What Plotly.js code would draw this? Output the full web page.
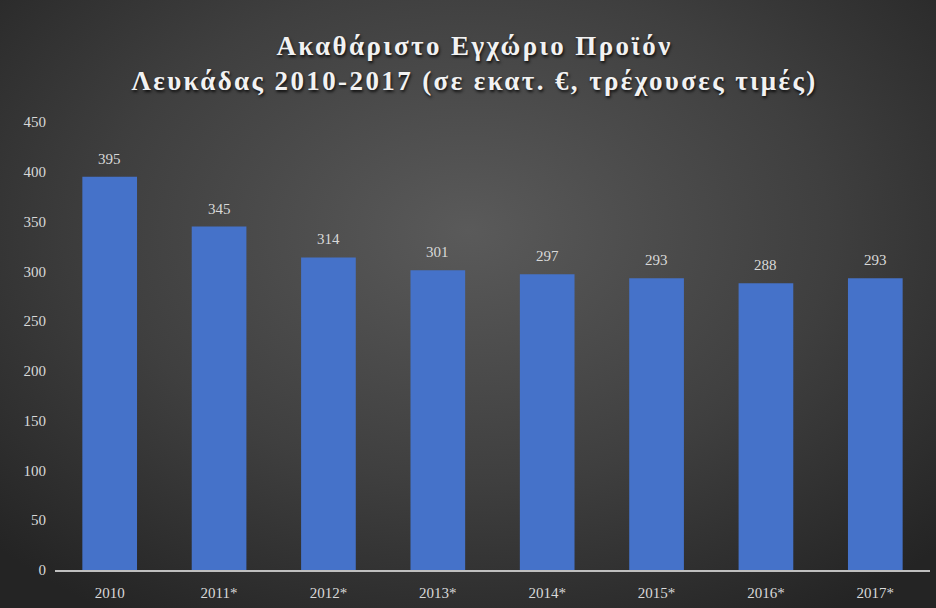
<!DOCTYPE html>
<html>
<head>
<meta charset="utf-8">
<script src="https://cdn.plot.ly/plotly-3.0.1.min.js"></script>
<style>
html,body{margin:0;padding:0;}
#chart{width:936px;height:608px;background:radial-gradient(ellipse 70% 75% at 50% 38%, #5a5a5a 0%, #3f3f3f 55%, #242424 100%);}
#chart .gtitle{text-shadow:1px 2px 3px rgba(0,0,0,0.8);letter-spacing:2.4px;}
</style>
</head>
<body>
<div id="chart"></div>
<script>
var categories = ["2010","2011*","2012*","2013*","2014*","2015*","2016*","2017*"];
var values = [395,345,314,301,297,293,288,293];
var yTicks = [0,50,100,150,200,250,300,350,400,450];

var trace = {
  type: "bar",
  x: categories,
  y: values,
  width: 0.5,
  marker: {color: "#4572c9"},
  hoverinfo: "none"
};

var labels = categories.map(function(c, i){
  return {
    x: i, y: values[i], xref: "x", yref: "y",
    text: String(values[i]),
    showarrow: false, yanchor: "bottom", yshift: 8,
    font: {family: "Liberation Serif", size: 15, color: "#d9d9d9"}
  };
});

var layout = {
  width: 936, height: 608,
  paper_bgcolor: "rgba(0,0,0,0)",
  plot_bgcolor: "rgba(0,0,0,0)",
  margin: {l: 55, r: 6, t: 122, b: 38},
  showlegend: false,
  annotations: labels,
  title: {
    text: "Ακαθάριστο Εγχώριο Προϊόν<br>Λευκάδας 2010-2017 (σε εκατ. €, τρέχουσες τιμές)",
    font: {family: "Liberation Serif", size: 27, color: "#f2f2f2", weight: "bold"},
    x: 0.507, xanchor: "center", y: 0.91, yanchor: "top"
  },
  xaxis: {
    type: "category",
    categoryorder: "array",
    categoryarray: categories,
    range: [-0.5, categories.length - 0.5],
    autorange: false,
    showgrid: false,
    showline: true, linecolor: "#bfbfbf", linewidth: 1.5,
    ticks: "",
    ticklabelstandoff: 8,
    tickfont: {family: "Liberation Serif", size: 15, color: "#d9d9d9"},
    fixedrange: true
  },
  yaxis: {
    range: [0, 450],
    tickvals: yTicks,
    ticktext: yTicks.map(String),
    showgrid: false, zeroline: false, showline: false,
    ticks: "",
    ticklabelstandoff: 8,
    tickfont: {family: "Liberation Serif", size: 15, color: "#d9d9d9"},
    fixedrange: true
  }
};

Plotly.newPlot("chart", [trace], layout, {displayModeBar: false, staticPlot: true});
</script>
</body>
</html>
